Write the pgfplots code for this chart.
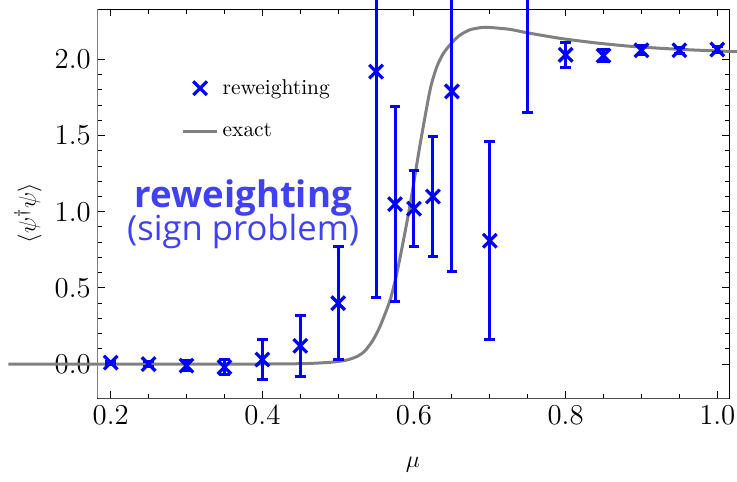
\documentclass[border=0pt]{standalone}
\usepackage{pgfplots}
\pgfplotsset{compat=1.18}
\usepackage{pgfplotstable}
\usepackage{fontspec}
\newfontfamily\annfont{Open Sans}
\definecolor{ptblue}{RGB}{0,0,255}
\definecolor{annblue}{RGB}{64,64,245}
\definecolor{curvegray}{RGB}{128,128,128}

\pgfplotstableread{
x y err
0.2 0.01 0.01
0.25 0.00 0.015
0.3 -0.01 0.035
0.35 -0.02 0.05
0.4 0.03 0.13
0.45 0.12 0.20
0.5 0.40 0.37
0.55 1.92 1.48
0.575 1.05 0.64
0.6 1.02 0.25
0.625 1.10 0.395
0.65 1.79 1.18
0.7 0.81 0.65
0.75 2.95 1.30
0.8 2.03 0.08
0.85 2.025 0.04
0.9 2.06 0.03
0.95 2.06 0.02
1.0 2.065 0.02
}\reweight

\pgfplotstableread{
x y
0.065 0
0.30 0
0.42 0.001
0.46 0.004
0.49 0.012
0.51 0.025
0.525 0.05
0.535 0.085
0.545 0.15
0.555 0.245
0.5685 0.42
0.5773 0.595
0.586 0.81
0.595 1.05
0.608 1.44
0.6212 1.80
0.63 1.95
0.6388 2.04
0.65 2.11
0.6608 2.16
0.674 2.195
0.69 2.21
0.70 2.21
0.7268 2.197
0.749 2.175
0.793 2.138
0.837 2.11
0.881 2.088
0.925 2.073
0.968 2.062
1.03 2.05
}\exact

\begin{document}
\begin{tikzpicture}
\begin{axis}[
  scale only axis,
  width=315.65pt, height=194.5pt,
  xmin=0.183, xmax=1.0158,
  ymin=-0.225, ymax=2.329,
  clip=false,
  axis line style={line width=0.5pt},
  xtick={0.2,0.4,0.6,0.8,1.0},
  ytick={0,0.5,1,1.5,2},
  minor x tick num=3,
  minor y tick num=4,
  major tick length=3.5pt,
  minor tick length=2.2pt,
  tick style={line width=0.5pt, black},
  tick align=inside,
  ticklabel style={font=\fontsize{13.7}{16}\selectfont},
  xticklabel style={/pgf/number format/.cd, fixed, fixed zerofill, precision=1},
  yticklabel style={/pgf/number format/.cd, fixed, fixed zerofill, precision=1},
  xlabel={$\mu$},
  ylabel={$\langle\psi^\dagger\psi\rangle$},
  label style={font=\fontsize{13}{15}\selectfont},
  xlabel style={at={(axis description cs:0.499,-0.171)}, anchor=center},
  ylabel style={at={(axis description cs:-0.1105,0.476)}, anchor=center},
  legend style={draw=none, fill=none, at={(axis cs:0.285,1.925)}, anchor=north west,
    font=\fontsize{10.7}{12}\selectfont, row sep=9pt},
  legend cell align=left,
]
\addplot[curvegray, line width=1.5pt, smooth, tension=0.4, forget plot] table[x=x,y=y] {\exact};
\addplot[ptblue, only marks, mark=x, mark size=4.8pt, mark options={line width=1.6pt},
  error bars/.cd, y dir=both, y explicit,
  error bar style={line width=1.5pt, ptblue},
  error mark options={rotate=90, mark size=2.7pt, line width=1.5pt, ptblue}]
  table[x=x, y=y, y error=err] {\reweight};
\addlegendentry{reweighting}
\addlegendimage{curvegray, line width=1.5pt}
\addlegendentry{exact}
\draw[curvegray, line width=0.6pt] (rel axis cs:0,0) -- (rel axis cs:0,1);
\draw[black!70, line width=0.6pt] (rel axis cs:0,0) -- (rel axis cs:1,0);
\node[annblue, font={\annfont\bfseries\fontsize{18.3}{20}\selectfont}] at (axis cs:0.3747,1.09) {reweighting};
\node[annblue, font={\annfont\fontsize{17.3}{20}\selectfont}] at (axis cs:0.3747,0.87) {(sign problem)};
\coordinate (bbsw) at (axis cs:0.054,-0.768);
\coordinate (bbne) at (axis cs:1.026,2.39);
\end{axis}
\pgfresetboundingbox
\path[use as bounding box] (bbsw) rectangle (bbne);
\end{tikzpicture}
\end{document}
